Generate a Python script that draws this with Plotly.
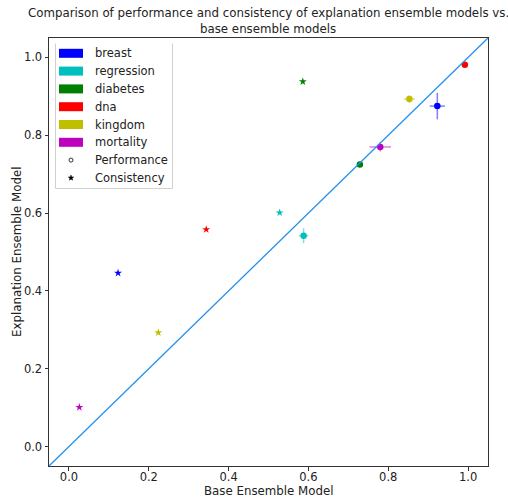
import math
import plotly.graph_objects as go

# Datasets and their colours
datasets = ["breast", "regression", "diabetes", "dna", "kingdom", "mortality"]
colors = ["#0000ff", "#00bfbf", "#008000", "#ff0000", "#bfbf00", "#bf00bf"]
err_colors = ["rgba(0,0,255,0.5)", "rgba(0,191,191,0.5)", "rgba(0,128,0,0.5)",
              "rgba(255,0,0,0.5)", "rgba(191,191,0,0.5)", "rgba(191,0,191,0.5)"]

# Performance: base ensemble vs explanation ensemble (mean and std)
perf_base = [0.923, 0.588, 0.729, 0.992, 0.853, 0.780]
perf_expl = [0.875, 0.542, 0.725, 0.981, 0.893, 0.770]
perf_base_err = [0.019, 0.012, 0.0, 0.0, 0.014, 0.027]
perf_expl_err = [0.034, 0.019, 0.0, 0.0, 0.010, 0.012]

# Consistency: base ensemble vs explanation ensemble
cons_base = [0.123, 0.528, 0.586, 0.344, 0.224, 0.026]
cons_expl = [0.446, 0.601, 0.938, 0.558, 0.293, 0.101]

marker_labels = ["Performance", "Consistency"]
ticks = [0.0, 0.2, 0.4, 0.6, 0.8, 1.0]
tick_text = ["0.0", "0.2", "0.4", "0.6", "0.8", "1.0"]

FONT = "DejaVu Sans"
TXT = "#222222"
W, H = 508, 499
ML, MR, MT, MB = 49, 20, 38, 33
PW, PH = W - ML - MR, H - MT - MB


def px(xp):
    """Horizontal page pixel -> paper fraction."""
    return (xp - ML) / PW


def py(yp):
    """Vertical page pixel (from top) -> paper fraction."""
    return 1 - (yp - MT) / PH


fig = go.Figure()

for i, name in enumerate(datasets):
    fig.add_trace(go.Scatter(
        x=[perf_base[i]], y=[perf_expl[i]], mode="markers",
        marker=dict(symbol="circle", size=6.5, color=colors[i]),
        error_x=dict(type="data", array=[perf_base_err[i]], color=err_colors[i],
                     thickness=1.5, width=0, visible=perf_base_err[i] > 0),
        error_y=dict(type="data", array=[perf_expl_err[i]], color=err_colors[i],
                     thickness=1.5, width=0, visible=perf_expl_err[i] > 0),
        showlegend=False, hoverinfo="skip"))
    fig.add_trace(go.Scatter(
        x=[cons_base[i]], y=[cons_expl[i]], mode="markers",
        marker=dict(symbol="star", size=6, color=colors[i]),
        showlegend=False, hoverinfo="skip"))

# Identity line across the axes
fig.add_shape(type="line", xref="x domain", yref="y domain",
              x0=0, y0=0, x1=1, y1=1, line=dict(color="#1f8ff0", width=1.2))

# Legend frame: four light-grey edges
bx0, bx1, by0, by1 = 55.5, 172.5, 43.5, 188.5
shapes = []
edge = dict(type="line", xref="paper", yref="paper", layer="above",
            line=dict(color="#d0d0d0", width=1))
for (xa, ya, xb, yb) in [(bx0, by0, bx1, by0), (bx0, by1, bx1, by1),
                         (bx0, by0, bx0, by1), (bx1, by0, bx1, by1)]:
    shapes.append(dict(edge, x0=px(xa), y0=py(ya), x1=px(xb), y1=py(yb)))

annotations = []
row_y = [53.3, 71.1, 88.9, 106.7, 124.5, 142.3, 160.1, 177.9]
for i, name in enumerate(datasets):
    yc = row_y[i]
    shapes.append(dict(type="rect", xref="paper", yref="paper", layer="above",
                       x0=px(59), x1=px(83), y0=py(yc + 4.5), y1=py(yc - 4.5),
                       line=dict(width=0), fillcolor=colors[i]))
    annotations.append(dict(text=name, xref="paper", yref="paper",
                            x=px(93), y=py(yc), xanchor="left", yanchor="middle",
                            showarrow=False, font=dict(family=FONT, size=11.5, color=TXT)))

# Marker meaning entries
star_pts = []
for k in range(10):
    r = 2.8 if k % 2 == 0 else 1.2
    a = math.pi / 2 + k * math.pi / 5
    star_pts.append((r * math.cos(a), r * math.sin(a)))
star_path = "M" + "L".join(f"{x:.2f},{y:.2f}" for x, y in star_pts) + "Z"

yc = row_y[6]
shapes.append(dict(type="circle", xref="paper", yref="paper", layer="above",
                   xsizemode="pixel", ysizemode="pixel",
                   xanchor=px(71), yanchor=py(yc), x0=-2, x1=2, y0=-2, y1=2,
                   line=dict(color="black", width=0.8), fillcolor="white"))
yc = row_y[7]
shapes.append(dict(type="path", xref="paper", yref="paper", layer="above",
                   xsizemode="pixel", ysizemode="pixel",
                   xanchor=px(71), yanchor=py(yc), path=star_path,
                   line=dict(color="black", width=0.5), fillcolor="black"))
for j, lab in enumerate(marker_labels):
    annotations.append(dict(text=lab, xref="paper", yref="paper",
                            x=px(93), y=py(row_y[6 + j]), xanchor="left", yanchor="middle",
                            showarrow=False, font=dict(family=FONT, size=11.5, color=TXT)))

# Title and axis titles
annotations += [
    dict(text="Comparison of performance and consistency of explanation ensemble models vs.",
         xref="paper", yref="paper", x=px(268), y=py(13), xanchor="center", yanchor="middle",
         showarrow=False, font=dict(family=FONT, size=11.8, color=TXT)),
    dict(text="base ensemble models",
         xref="paper", yref="paper", x=px(268), y=py(29), xanchor="center", yanchor="middle",
         showarrow=False, font=dict(family=FONT, size=11.8, color=TXT)),
    dict(text="Base Ensemble Model",
         xref="paper", yref="paper", x=px(268.5), y=py(490.5), xanchor="center", yanchor="middle",
         showarrow=False, font=dict(family=FONT, size=11.8, color=TXT)),
    dict(text="Explanation Ensemble Model", textangle=-90,
         xref="paper", yref="paper", x=px(17), y=py(252), xanchor="center", yanchor="middle",
         showarrow=False, font=dict(family=FONT, size=11.8, color=TXT)),
]

axis_common = dict(
    range=[-0.05, 1.05], tickvals=ticks, ticktext=tick_text,
    showgrid=False, zeroline=False, showline=True, mirror=True,
    linecolor="#333333", linewidth=1, ticks="outside", ticklen=3.5,
    tickcolor="#333333", tickfont=dict(family=FONT, size=11.5, color=TXT),
    automargin=False,
)

fig.update_layout(
    width=W, height=H,
    margin=dict(l=ML, r=MR, t=MT, b=MB),
    paper_bgcolor="white", plot_bgcolor="white",
    showlegend=False,
    xaxis=dict(axis_common, ticklabelstandoff=-3),
    yaxis=axis_common,
    shapes=shapes, annotations=annotations,
)

fig.write_html("out.html")
